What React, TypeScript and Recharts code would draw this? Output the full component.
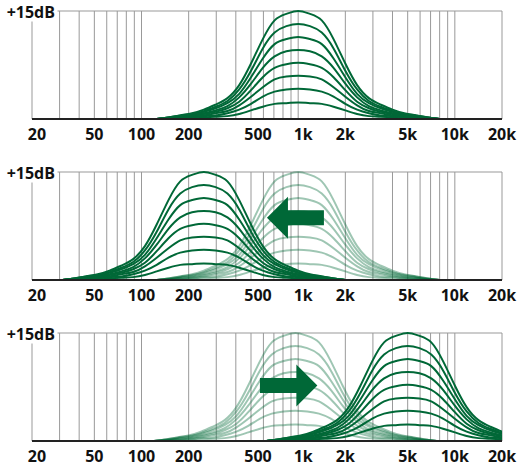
import React from 'react';
import { LineChart, Line, XAxis, YAxis, CartesianGrid, ReferenceLine } from 'recharts';

// Grid frequencies (Hz) and labelled ticks
const GRID_FREQS = [20, 30, 40, 50, 60, 70, 80, 90, 100, 200, 300, 400, 500, 600, 700, 800, 900, 1000, 2000, 3000, 4000, 5000, 6000, 7000, 8000, 9000, 10000, 20000];
const LABEL_FREQS = [20, 50, 100, 200, 500, 1000, 2000, 5000, 10000, 20000];
const LABEL_TEXTS = ['20', '50', '100', '200', '500', '1k', '2k', '5k', '10k', '20k'];

// Offsets (octaves from the band centre) at which the curves were read
const OCTAVES = [-3, -2.75, -2.5, -2.25, -2, -1.75, -1.5, -1.25, -1, -0.75, -0.5, -0.25, 0, 0.25, 0.5, 0.75, 1, 1.25, 1.5, 1.75, 2, 2.25, 2.5, 2.75, 3];

// Gain curves in dB
const CURVE_15 = [0, 0.2, 0.5, 0.8, 1.3, 2.0, 2.9, 4.7, 7.7, 11.1, 13.7, 14.6, 15.0, 14.6, 13.7, 11.1, 7.7, 4.7, 2.9, 2.0, 1.3, 0.8, 0.5, 0.2, 0];
const CURVE_13 = [0, 0.2, 0.5, 0.7, 1.1, 1.7, 2.5, 4.1, 6.7, 9.8, 12.0, 12.9, 13.2, 12.9, 12.0, 9.8, 6.7, 4.1, 2.5, 1.7, 1.1, 0.7, 0.5, 0.2, 0];
const CURVE_11 = [0, 0.2, 0.4, 0.6, 1.0, 1.5, 2.2, 3.5, 5.8, 8.4, 10.4, 11.1, 11.4, 11.1, 10.4, 8.4, 5.8, 3.5, 2.2, 1.5, 1.0, 0.6, 0.4, 0.2, 0];
const CURVE_9 = [0, 0.1, 0.3, 0.5, 0.8, 1.2, 1.8, 3.0, 4.9, 7.1, 8.7, 9.4, 9.6, 9.4, 8.7, 7.1, 4.9, 3.0, 1.8, 1.2, 0.8, 0.5, 0.3, 0.1, 0];
const CURVE_7 = [0, 0.1, 0.3, 0.4, 0.7, 1.0, 1.5, 2.4, 4.0, 5.8, 7.1, 7.6, 7.8, 7.6, 7.1, 5.8, 4.0, 2.4, 1.5, 1.0, 0.7, 0.4, 0.3, 0.1, 0];
const CURVE_6 = [0, 0.1, 0.2, 0.3, 0.5, 0.8, 1.1, 1.9, 3.1, 4.4, 5.5, 5.9, 6.0, 5.9, 5.5, 4.4, 3.1, 1.9, 1.1, 0.8, 0.5, 0.3, 0.2, 0.1, 0];
const CURVE_4 = [0, 0.1, 0.1, 0.2, 0.4, 0.5, 0.8, 1.3, 2.1, 3.1, 3.8, 4.1, 4.2, 4.1, 3.8, 3.1, 2.1, 1.3, 0.8, 0.5, 0.4, 0.2, 0.1, 0.1, 0];
const CURVE_2 = [0, 0.0, 0.1, 0.1, 0.2, 0.3, 0.4, 0.7, 1.2, 1.7, 2.1, 2.2, 2.3, 2.2, 2.1, 1.7, 1.2, 0.7, 0.4, 0.3, 0.2, 0.1, 0.1, 0.0, 0];
const CURVES = [CURVE_2, CURVE_4, CURVE_6, CURVE_7, CURVE_9, CURVE_11, CURVE_13, CURVE_15];

// Band centres (Hz)
const CENTER_MAIN = 1000;
const CENTER_LOW = 250;
const CENTER_HIGH = 5000;
const CENTER_GHOST_2 = 1000;
const CENTER_GHOST_3 = 960;

// Arrows: from / to frequency, level in dB
const ARROW_LEFT = { from: 1460, to: 632, db: 8.65 };
const ARROW_RIGHT = { from: 570, to: 1326, db: 7.7 };

const GREEN = '#006837';
const FONT = '"Open Sans", "Noto Sans", sans-serif';

const buildSeries = (center: number, curve: number[]) =>
  OCTAVES.map((o, i) => ({ f: center * Math.pow(2, o), v: curve[i] }));

const LABEL_NUDGE: Record<number, number> = { 20: 5, 500: 7, 1000: 5 };

const XTick = (props: any) => {
  const { x, y, payload } = props;
  const idx = LABEL_FREQS.indexOf(payload.value);
  if (idx < 0) return <g />;
  const nudge = LABEL_NUDGE[payload.value] ?? 0;
  return (
    <text x={x + nudge} y={y + 21} textAnchor="middle" fontFamily={FONT} fontWeight={700} fontSize={16} fill="#111">
      {LABEL_TEXTS[idx]}
    </text>
  );
};

const YTick = (props: any) => {
  const { y, payload } = props;
  if (payload.value !== 15) return <g />;
  return (
    <g>
      <rect x={0} y={y - 11} width={57.5} height={21.5} fill="#fff" />
      <text x={55} y={y + 7} textAnchor="end" fontFamily={FONT} fontWeight={700} fontSize={16} fill="#111">
        +15dB
      </text>
    </g>
  );
};

const ArrowShape = (props: any) => {
  const { x1, y1, x2 } = props;
  const dir = x2 > x1 ? 1 : -1;
  const headLen = 21;
  const headHalf = 21;
  const shaftHalf = 7.5;
  const neck = x2 - dir * headLen;
  const pts = [
    [x1, y1 - shaftHalf],
    [neck, y1 - shaftHalf],
    [neck, y1 - headHalf],
    [x2, y1],
    [neck, y1 + headHalf],
    [neck, y1 + shaftHalf],
    [x1, y1 + shaftHalf],
  ]
    .map((p) => p.join(','))
    .join(' ');
  return <polygon points={pts} fill={GREEN} />;
};

type PanelProps = {
  center: number;
  ghostCenter?: number;
  arrow?: { from: number; to: number; db: number };
};

const Panel = ({ center, ghostCenter, arrow }: PanelProps) => (
  <LineChart width={518} height={144} margin={{ top: 11, right: 16, bottom: 0, left: 0 }}>
    <CartesianGrid stroke="#999" strokeWidth={1} />
    <XAxis
      dataKey="f"
      type="number"
      scale="log"
      domain={[20, 20000]}
      allowDataOverflow
      ticks={GRID_FREQS}
      interval={0}
      tick={<XTick />}
      tickLine={false}
      tickSize={0}
      tickMargin={0}
      height={25}
      axisLine={{ stroke: '#222', strokeWidth: 2 }}
    />
    <YAxis
      type="number"
      domain={[0, 15]}
      ticks={[15]}
      width={32}
      axisLine={false}
      tickLine={false}
      tick={<YTick />}
    />
    {ghostCenter !== undefined &&
      CURVES.map((c, i) => (
        <Line
          key={'g' + i}
          data={buildSeries(ghostCenter, c)}
          dataKey="v"
          type="natural"
          stroke={GREEN}
          strokeOpacity={0.38}
          strokeWidth={2}
          dot={false}
          isAnimationActive={false}
        />
      ))}
    {CURVES.map((c, i) => (
      <Line
        key={'d' + i}
        data={buildSeries(center, c)}
        dataKey="v"
        type="natural"
        stroke={GREEN}
        strokeWidth={2}
        dot={false}
        isAnimationActive={false}
      />
    ))}
    {arrow && (
      <ReferenceLine
        segment={[
          { x: arrow.from, y: arrow.db },
          { x: arrow.to, y: arrow.db },
        ]}
        shape={ArrowShape}
        zIndex={1500}
      />
    )}
  </LineChart>
);

export default function App() {
  return (
    <div style={{ position: 'absolute', left: 0, top: 0, width: 518, height: 466, overflow: 'hidden', background: '#fff' }}>
      <div style={{ position: 'absolute', left: 0, top: 0 }}>
        <Panel center={CENTER_MAIN} />
      </div>
      <div style={{ position: 'absolute', left: 0, top: 161 }}>
        <Panel center={CENTER_LOW} ghostCenter={CENTER_GHOST_2} arrow={ARROW_LEFT} />
      </div>
      <div style={{ position: 'absolute', left: 0, top: 322 }}>
        <Panel center={CENTER_HIGH} ghostCenter={CENTER_GHOST_3} arrow={ARROW_RIGHT} />
      </div>
    </div>
  );
}
